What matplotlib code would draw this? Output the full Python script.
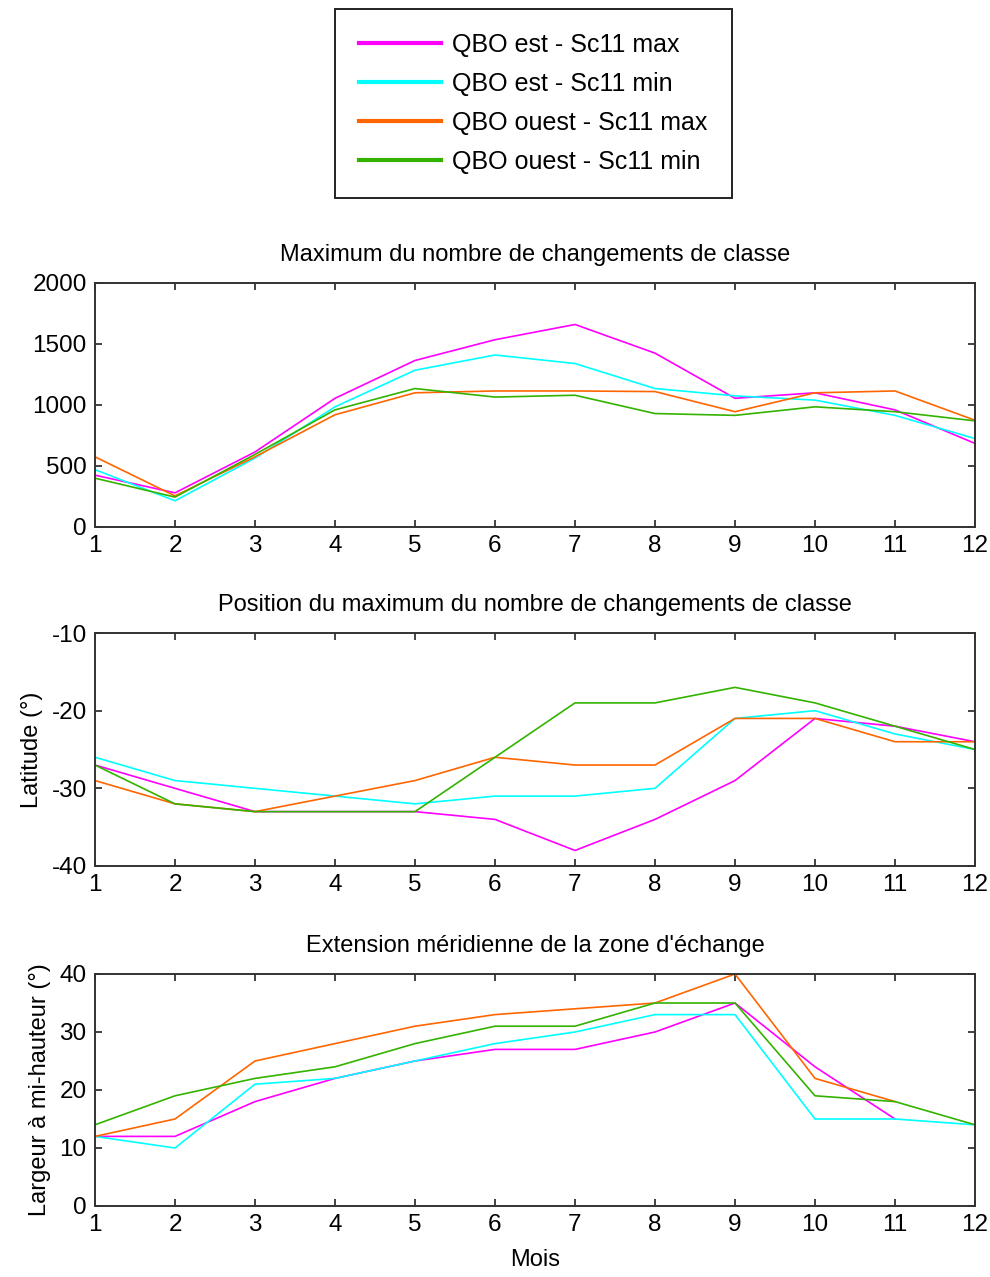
import numpy as np
import matplotlib
matplotlib.use('Agg')
from matplotlib import pyplot as plt

plt.rcParams['font.family'] = ['Liberation Sans', 'DejaVu Sans']
plt.rcParams['font.size'] = 17
plt.rcParams['axes.unicode_minus'] = False

# data
mois = np.arange(1, 13)
labels = ['QBO est - Sc11 max', 'QBO est - Sc11 min',
          'QBO ouest - Sc11 max', 'QBO ouest - Sc11 min']
colors = ['#ff00ff', '#00ffff', '#ff6600', '#33b300']

# maximum du nombre de changements de classe
nb_est_max = [425, 280, 615, 1055, 1365, 1535, 1660, 1425, 1055, 1100, 960, 685]
nb_est_min = [470, 215, 565, 985, 1285, 1410, 1340, 1135, 1075, 1040, 915, 725]
nb_ouest_max = [575, 255, 575, 920, 1100, 1115, 1115, 1110, 945, 1100, 1115, 875]
nb_ouest_min = [400, 245, 595, 960, 1135, 1065, 1080, 930, 915, 985, 945, 870]

# position du maximum (latitude)
lat_est_max = [-27, -30, -33, -33, -33, -34, -38, -34, -29, -21, -22, -24]
lat_est_min = [-26, -29, -30, -31, -32, -31, -31, -30, -21, -20, -23, -25]
lat_ouest_max = [-29, -32, -33, -31, -29, -26, -27, -27, -21, -21, -24, -24]
lat_ouest_min = [-27, -32, -33, -33, -33, -26, -19, -19, -17, -19, -22, -25]

# extension meridienne (largeur a mi-hauteur)
ext_est_max = [12, 12, 18, 22, 25, 27, 27, 30, 35, 24, 15, np.nan]
ext_est_min = [12, 10, 21, 22, 25, 28, 30, 33, 33, 15, 15, 14]
ext_ouest_max = [12, 15, 25, 28, 31, 33, 34, 35, 40, 22, 18, np.nan]
ext_ouest_min = [14, 19, 22, 24, 28, 31, 31, 35, 35, 19, 18, 14]

W, H = 990, 1277
fig = plt.figure(figsize=(W / 100, H / 100), dpi=100)


def add_ax(top, bottom):
    return fig.add_axes([95 / W, 1 - bottom / H, 880 / W, (bottom - top) / H])


ax1 = add_ax(283, 527)
ax2 = add_ax(633, 866)
ax3 = add_ax(974, 1206)

panels = [
    (ax1, [nb_est_max, nb_est_min, nb_ouest_max, nb_ouest_min],
     'Maximum du nombre de changements de classe', (0, 2000), [0, 500, 1000, 1500, 2000], None),
    (ax2, [lat_est_max, lat_est_min, lat_ouest_max, lat_ouest_min],
     'Position du maximum du nombre de changements de classe', (-40, -10), [-40, -30, -20, -10],
     'Latitude (°)'),
    (ax3, [ext_est_max, ext_est_min, ext_ouest_max, ext_ouest_min],
     "Extension méridienne de la zone d'échange", (0, 40), [0, 10, 20, 30, 40],
     'Largeur à mi-hauteur (°)'),
]

for ax, series, title, ylim, yticks, ylabel in panels:
    for s, c, lab in zip(series, colors, labels):
        ax.plot(mois, s, color=c, lw=1.2, label=lab)
    ax.set_xlim(1, 12)
    ax.set_ylim(*ylim)
    ax.set_xticks(mois)
    ax.set_yticks(yticks)
    ax.set_title(title, pad=16, fontsize=17)
    if ylabel:
        ax.set_ylabel(ylabel, labelpad=6)
    ax.tick_params(direction='in', length=5, width=1.2, top=True, right=True,
                   pad=6, colors='#222222', labelcolor='black', labelsize=17.5)
    for sp in ax.spines.values():
        sp.set_linewidth(1.4)
        sp.set_color('#333333')

ax3.set_xlabel('Mois', labelpad=9)

handles, labs = ax1.get_legend_handles_labels()
leg = fig.legend(handles, labs, loc='upper left',
                 bbox_to_anchor=(335 / W, 1 - 9 / H),
                 fancybox=False, edgecolor='#222222', framealpha=1,
                 fontsize=18, handlelength=3.3, handletextpad=0.45,
                 labelspacing=0.6, borderpad=0.95, borderaxespad=0)
leg.get_frame().set_linewidth(1.4)
for ln in leg.get_lines():
    ln.set_linewidth(3)

fig.savefig('out.png', dpi=100)
